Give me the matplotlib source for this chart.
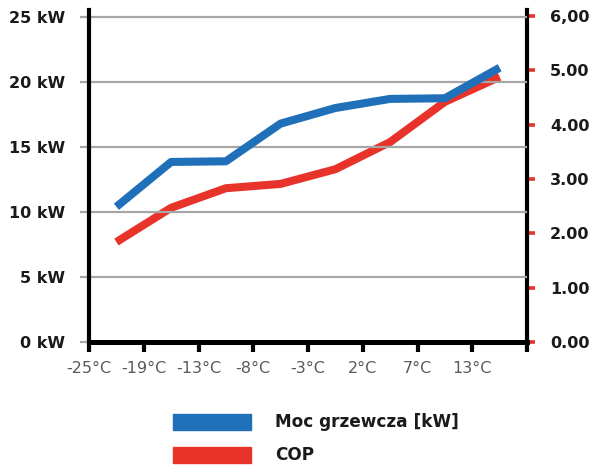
import matplotlib
matplotlib.use("Agg")
import matplotlib.pyplot as plt
from matplotlib.patches import Rectangle

temps = ["-25°C", "-19°C", "-13°C", "-8°C", "-3°C", "2°C", "7°C", "13°C"]
power_kw = [10.4, 13.85, 13.9, 16.8, 18.0, 18.7, 18.75, 21.1]
cop = [1.84, 2.47, 2.83, 2.91, 3.18, 3.68, 4.42, 4.88]
kw_ticks = [0, 5, 10, 15, 20, 25]
kw_labels = ["0 kW", "5 kW", "10 kW", "15 kW", "20 kW", "25 kW"]
cop_ticks = [0, 1, 2, 3, 4, 5, 6]
cop_labels = ["0.00", "1.00", "2.00", "3.00", "4.00", "5.00", "6,00"]
series_names = ["Moc grzewcza [kW]", "COP"]

BLUE = "#1f6fb9"
RED = "#e8332b"
GRID = "#a6a6a6"

fig = plt.figure(figsize=(5.97, 4.66), dpi=100)
ax = fig.add_axes([89/597, 1-342/466, (527-89)/597, (342-10)/466])
ax2 = ax.twinx()

n = len(temps)
xs = [i + 0.5 for i in range(n)]
ax.set_xlim(0, n)
ax.set_ylim(0, 25 * (332/325))
ax2.set_ylim(0, 6 * (332/326))

for y in kw_ticks[1:]:
    ax.axhline(y, color=GRID, lw=1.6, zorder=1)

ax.plot(xs, power_kw, color=BLUE, lw=5.8, solid_capstyle="butt", zorder=3)
ax2.plot(xs, cop, color=RED, lw=5.8, solid_capstyle="butt", zorder=3)

ax.set_zorder(2)
ax.patch.set_visible(False)

ax.spines["top"].set_visible(False)
ax2.spines["top"].set_visible(False)
ax2.spines["left"].set_visible(False)
ax2.spines["bottom"].set_visible(False)
ax.spines["right"].set_visible(False)
ax.spines["left"].set_linewidth(3.0)
ax.spines["bottom"].set_linewidth(3.6)
ax2.spines["right"].set_linewidth(3.0)
for sp in [ax.spines["left"], ax.spines["bottom"], ax2.spines["right"]]:
    sp.set_color("black")

ax.set_xticks(list(range(n + 1)))
ax.set_xticklabels(temps + [""], family=["Liberation Sans Narrow", "DejaVu Sans"],
                   fontsize=11.5, color="#5a5a5a")
ax.tick_params(axis="x", length=7.5, width=3.0, color="black", pad=6.5)

ax.set_yticks(kw_ticks)
ax.set_yticklabels(kw_labels, fontsize=11.5, fontweight="bold", color="#1a1a1a")
ax.tick_params(axis="y", length=6.5, width=1.6, color=GRID, pad=10.5)

ax2.set_yticks(cop_ticks)
ax2.set_yticklabels(cop_labels, fontsize=11.5, fontweight="bold", color="#1a1a1a")
ax2.tick_params(axis="y", length=5.5, width=2.6, color=RED, pad=11, direction="out")

# legend
fig.patches.append(Rectangle((173/597, 1-430/466), 78/597, 16/466, transform=fig.transFigure, color=BLUE))
fig.patches.append(Rectangle((173/597, 1-463/466), 78/597, 16/466, transform=fig.transFigure, color=RED))
fig.text(275/597, 1-422/466, series_names[0], fontsize=12.2, fontweight="bold", va="center", color="#1a1a1a")
fig.text(275/597, 1-455/466, series_names[1], fontsize=12.2, fontweight="bold", va="center", color="#1a1a1a")

fig.savefig("out.png", dpi=100)
